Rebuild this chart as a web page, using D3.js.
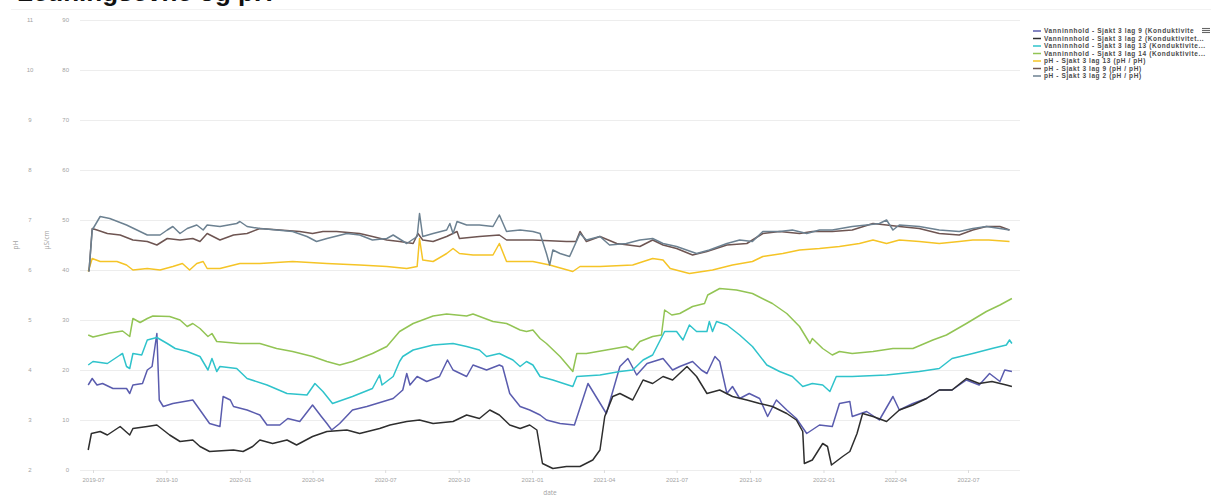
<!DOCTYPE html>
<html lang="en">
<head>
<meta charset="UTF-8">
<title>Ledningsevne og pH</title>
<style>
    body { margin: 0; background: #fff; overflow: hidden; }
    svg { display: block; font-family: "Open Sans", sans-serif; }
    .grid line { stroke: #ededed; stroke-width: 1; }
    .domain { display: none; }
    .axis text { fill: #a3a3a3; font-size: 6px; }
    .xaxis line { stroke: #dcdcdc; }
    .series { fill: none; stroke-width: 1.5; stroke-linejoin: round; }
    .legend text { fill: #4a4a4a; font-family: "Liberation Sans", Arial, sans-serif; font-size: 6.5px; font-weight: bold; letter-spacing: 0.6px; }
</style>
</head>
<body>
<svg></svg>
<script src="https://d3js.org/d3.v7.min.js"></script>
<script>
    /* data */
    const condTicks = [0, 10, 20, 30, 40, 50, 60, 70, 80, 90];
    const phTicks = [2, 3, 4, 5, 6, 7, 8, 9, 10, 11];
    const dateTicks = ["2019-07-01", "2019-10-01", "2020-01-01", "2020-04-01", "2020-07-01", "2020-10-01",
        "2021-01-01", "2021-04-01", "2021-07-01", "2021-10-01", "2022-01-01", "2022-04-01", "2022-07-01"];

    const condLag9 = [["2019-06-25",17.0],["2019-06-30",18.3],["2019-07-06",17.0],["2019-07-13",17.3],["2019-07-26",16.3],
        ["2019-08-12",16.3],["2019-08-16",15.3],["2019-08-20",17.0],["2019-09-01",17.3],["2019-09-07",20.0],["2019-09-13",20.7],
        ["2019-09-19",27.3],["2019-09-22",14.0],["2019-09-27",12.7],["2019-10-09",13.3],["2019-11-03",14.0],["2019-11-12",12.0],
        ["2019-11-24",9.3],["2019-12-07",8.7],["2019-12-11",14.7],["2019-12-20",14.0],["2019-12-24",12.7],["2020-01-10",12.0],
        ["2020-01-26",11.0],["2020-02-04",9.0],["2020-02-20",9.0],["2020-03-01",10.3],["2020-03-16",9.7],["2020-04-01",13.0],
        ["2020-04-12",10.7],["2020-04-19",9.3],["2020-04-25",8.0],["2020-05-05",9.3],["2020-05-21",12.0],["2020-06-08",12.7],
        ["2020-07-11",14.3],["2020-07-23",16.0],["2020-07-28",19.3],["2020-08-01",17.0],["2020-08-10",18.7],["2020-08-22",17.7],
        ["2020-09-07",18.7],["2020-09-17",22.0],["2020-09-24",20.0],["2020-10-11",18.7],["2020-10-19",21.0],["2020-11-05",20.0],
        ["2020-11-21",21.0],["2020-11-25",20.7],["2020-12-04",15.3],["2020-12-17",12.7],["2020-12-29",12.0],["2021-01-11",11.0],
        ["2021-01-19",10.0],["2021-02-05",9.3],["2021-02-23",9.0],["2021-03-12",17.3],["2021-04-04",11.3],["2021-04-21",20.7],
        ["2021-05-01",22.3],["2021-05-12",19.0],["2021-05-25",21.3],["2021-06-14",22.3],["2021-06-26",20.0],["2021-07-05",20.7],
        ["2021-07-21",21.7],["2021-08-01",20.0],["2021-08-08",19.3],["2021-08-18",22.7],["2021-08-24",21.7],["2021-09-02",15.3],
        ["2021-09-09",16.7],["2021-09-18",14.3],["2021-09-30",15.3],["2021-10-13",14.3],["2021-10-23",10.7],["2021-11-03",14.0],
        ["2021-11-16",12.0],["2021-11-28",10.3],["2021-12-11",7.3],["2021-12-27",9.0],["2022-01-12",8.7],["2022-01-21",13.3],
        ["2022-02-03",13.7],["2022-02-06",10.7],["2022-02-24",11.7],["2022-03-12",10.0],["2022-03-29",14.7],["2022-04-06",12.0],
        ["2022-04-23",13.3],["2022-05-10",14.3],["2022-05-26",16.0],["2022-06-11",16.0],["2022-06-29",18.0],["2022-07-15",17.0],
        ["2022-07-28",19.3],["2022-08-10",17.7],["2022-08-16",20.0],["2022-08-25",19.7]];

    const condLag2 = [["2019-06-25",4.0],["2019-06-29",7.3],["2019-07-10",7.7],["2019-07-19",7.0],["2019-08-04",8.7],
        ["2019-08-16",7.0],["2019-08-20",8.3],["2019-09-07",8.7],["2019-09-19",9.0],["2019-10-05",7.0],["2019-10-18",5.7],
        ["2019-11-03",6.0],["2019-11-12",4.7],["2019-11-24",3.7],["2019-12-24",4.0],["2020-01-05",3.7],["2020-01-17",4.7],
        ["2020-01-26",6.0],["2020-02-11",5.3],["2020-02-29",6.0],["2020-03-12",5.0],["2020-04-01",6.7],["2020-04-19",7.7],
        ["2020-05-14",8.0],["2020-05-30",7.3],["2020-06-24",8.3],["2020-07-07",9.0],["2020-07-28",9.7],["2020-08-13",10.0],
        ["2020-08-30",9.3],["2020-09-24",9.7],["2020-10-11",11.0],["2020-10-27",10.3],["2020-11-09",12.0],["2020-11-21",11.0],
        ["2020-12-04",9.0],["2020-12-17",8.3],["2020-12-29",9.0],["2021-01-07",8.0],["2021-01-14",1.3],["2021-01-27",0.3],
        ["2021-02-13",0.7],["2021-03-02",0.7],["2021-03-18",2.0],["2021-03-27",4.0],["2021-04-02",10.7],["2021-04-12",14.7],
        ["2021-04-21",15.3],["2021-05-07",14.0],["2021-05-20",18.0],["2021-06-01",17.3],["2021-06-14",18.7],["2021-06-26",18.0],
        ["2021-07-14",20.7],["2021-07-26",18.7],["2021-08-08",15.3],["2021-08-24",16.0],["2021-09-09",14.7],["2021-09-27",14.0],
        ["2021-10-13",13.3],["2021-10-29",12.7],["2021-11-16",11.3],["2021-11-28",10.0],["2021-12-06",7.7],["2021-12-08",1.3],
        ["2021-12-18",2.0],["2021-12-31",5.3],["2022-01-06",4.7],["2022-01-11",1.0],["2022-01-25",2.7],["2022-02-03",3.7],
        ["2022-02-12",7.3],["2022-02-19",11.3],["2022-03-04",10.7],["2022-03-21",9.7],["2022-04-06",12.0],["2022-04-23",13.0],
        ["2022-05-10",14.3],["2022-05-26",16.0],["2022-06-11",16.0],["2022-06-29",18.3],["2022-07-15",17.3],["2022-07-31",17.7],
        ["2022-08-18",17.0],["2022-08-25",16.7]];

    const condLag13 = [["2019-06-25",21.0],["2019-07-01",21.7],["2019-07-19",21.3],["2019-08-04",23.0],["2019-08-07",23.3],
        ["2019-08-12",20.7],["2019-08-16",20.3],["2019-08-20",23.3],["2019-08-31",23.0],["2019-09-07",26.0],["2019-09-19",26.5],
        ["2019-10-02",25.3],["2019-10-12",24.3],["2019-10-27",23.7],["2019-11-12",22.7],["2019-11-22",20.0],["2019-11-27",22.3],
        ["2019-12-03",19.7],["2019-12-07",20.7],["2019-12-28",20.3],["2020-01-10",18.3],["2020-02-04",17.0],["2020-02-29",15.3],
        ["2020-03-25",15.0],["2020-04-04",17.3],["2020-04-14",15.7],["2020-04-26",13.3],["2020-05-21",14.7],["2020-06-15",16.3],
        ["2020-06-24",19.0],["2020-06-27",17.0],["2020-07-11",18.7],["2020-07-19",21.7],["2020-07-23",22.7],["2020-08-05",24.0],
        ["2020-08-30",25.0],["2020-09-24",25.3],["2020-10-11",24.7],["2020-10-27",24.0],["2020-11-05",22.7],["2020-11-21",23.3],
        ["2020-12-08",22.0],["2020-12-17",20.7],["2020-12-25",21.7],["2021-01-02",21.0],["2021-01-11",18.7],["2021-01-27",18.0],
        ["2021-02-21",16.7],["2021-02-26",18.7],["2021-03-27",19.0],["2021-04-21",19.7],["2021-05-07",20.0],["2021-05-20",22.0],
        ["2021-06-01",23.0],["2021-06-16",27.7],["2021-07-01",27.7],["2021-07-09",26.0],["2021-07-17",29.0],["2021-07-26",27.7],
        ["2021-08-08",27.7],["2021-08-11",29.7],["2021-08-15",27.7],["2021-08-20",29.7],["2021-09-02",29.0],["2021-09-18",27.0],
        ["2021-10-04",24.7],["2021-10-22",21.0],["2021-11-07",19.7],["2021-11-23",18.7],["2021-12-06",16.7],["2021-12-18",17.3],
        ["2021-12-31",17.0],["2022-01-09",15.7],["2022-01-17",18.7],["2022-02-06",18.7],["2022-03-21",19.0],["2022-05-01",19.7],
        ["2022-05-26",20.3],["2022-06-11",22.3],["2022-07-07",23.3],["2022-07-31",24.3],["2022-08-18",25.0],["2022-08-22",26.0],
        ["2022-08-25",25.3]];

    const condLag14 = [["2019-06-25",27.0],["2019-07-01",26.6],["2019-07-22",27.4],["2019-08-07",27.8],["2019-08-16",26.7],
        ["2019-08-20",30.3],["2019-08-29",29.5],["2019-09-07",30.3],["2019-09-14",30.8],["2019-10-05",30.7],["2019-10-18",30.0],
        ["2019-10-27",28.7],["2019-11-03",29.3],["2019-11-12",28.3],["2019-11-22",26.7],["2019-11-27",27.3],["2019-12-03",25.7],
        ["2020-01-01",25.3],["2020-01-26",25.3],["2020-02-16",24.3],["2020-03-07",23.7],["2020-04-01",22.7],["2020-04-19",21.7],
        ["2020-05-05",21.0],["2020-05-21",21.7],["2020-06-15",23.3],["2020-07-03",24.7],["2020-07-19",27.7],["2020-08-05",29.3],
        ["2020-08-30",30.8],["2020-09-16",31.2],["2020-10-11",30.8],["2020-10-19",31.2],["2020-11-13",29.7],["2020-11-30",29.3],
        ["2020-12-17",28.0],["2020-12-25",27.7],["2021-01-02",28.0],["2021-01-11",26.3],["2021-01-19",25.3],["2021-02-05",22.7],
        ["2021-02-21",19.7],["2021-02-26",23.3],["2021-03-10",23.3],["2021-04-04",24.0],["2021-04-29",24.7],["2021-05-07",24.0],
        ["2021-05-16",25.7],["2021-06-01",26.7],["2021-06-12",27.0],["2021-06-16",32.0],["2021-06-25",31.0],["2021-07-05",31.3],
        ["2021-07-21",32.7],["2021-08-05",33.3],["2021-08-09",35.0],["2021-08-24",36.3],["2021-09-14",36.0],["2021-10-04",35.3],
        ["2021-10-29",33.3],["2021-11-16",31.3],["2021-12-02",28.7],["2021-12-15",25.3],["2021-12-18",26.3],["2021-12-31",24.3],
        ["2022-01-12",23.0],["2022-01-21",23.7],["2022-02-06",23.3],["2022-03-04",23.7],["2022-03-29",24.3],["2022-04-23",24.3],
        ["2022-05-18",26.0],["2022-06-04",27.0],["2022-06-29",29.3],["2022-07-24",31.7],["2022-08-10",33.0],["2022-08-25",34.3]];

    const phLag13 = [["2019-06-25",5.97],["2019-06-30",6.23],["2019-07-10",6.17],["2019-07-31",6.17],["2019-08-12",6.1],
        ["2019-08-20",6.0],["2019-09-07",6.03],["2019-09-23",6.0],["2019-10-09",6.07],["2019-10-21",6.13],["2019-10-30",6.0],
        ["2019-11-08",6.13],["2019-11-16",6.17],["2019-11-21",6.03],["2019-12-07",6.03],["2020-01-01",6.13],["2020-01-26",6.13],
        ["2020-03-07",6.17],["2020-04-19",6.13],["2020-05-30",6.1],["2020-07-03",6.07],["2020-07-28",6.03],["2020-08-10",6.07],
        ["2020-08-13",6.63],["2020-08-17",6.2],["2020-08-30",6.17],["2020-09-16",6.33],["2020-09-24",6.43],["2020-10-02",6.33],
        ["2020-10-19",6.3],["2020-11-13",6.3],["2020-11-21",6.53],["2020-11-30",6.17],["2020-12-25",6.17],["2021-01-02",6.17],
        ["2021-01-23",6.1],["2021-02-21",5.97],["2021-03-02",6.07],["2021-03-27",6.07],["2021-05-07",6.1],["2021-06-01",6.23],
        ["2021-06-14",6.2],["2021-06-23",6.03],["2021-07-17",5.93],["2021-08-15",6.0],["2021-09-09",6.1],["2021-10-04",6.17],
        ["2021-10-17",6.27],["2021-11-11",6.33],["2021-12-02",6.4],["2021-12-27",6.43],["2022-01-21",6.47],["2022-02-15",6.53],
        ["2022-03-04",6.6],["2022-03-21",6.53],["2022-04-06",6.6],["2022-05-01",6.57],["2022-05-26",6.53],["2022-06-20",6.57],
        ["2022-07-07",6.6],["2022-07-27",6.6],["2022-08-22",6.57]];

    const phLag9 = [["2019-06-26",5.97],["2019-06-30",6.83],["2019-07-06",6.8],["2019-07-19",6.73],["2019-08-04",6.7],
        ["2019-08-20",6.6],["2019-09-07",6.57],["2019-09-19",6.5],["2019-10-02",6.63],["2019-10-18",6.6],["2019-11-03",6.63],
        ["2019-11-12",6.57],["2019-11-21",6.73],["2019-12-07",6.6],["2019-12-24",6.7],["2020-01-10",6.73],["2020-01-26",6.83],
        ["2020-02-20",6.8],["2020-03-16",6.77],["2020-04-01",6.73],["2020-04-14",6.77],["2020-05-01",6.77],["2020-05-30",6.73],
        ["2020-06-15",6.67],["2020-07-03",6.6],["2020-07-19",6.57],["2020-08-05",6.53],["2020-08-11",6.73],["2020-08-17",6.6],
        ["2020-08-30",6.57],["2020-09-16",6.67],["2020-09-29",6.77],["2020-10-02",6.63],["2020-10-27",6.67],["2020-11-21",6.7],
        ["2020-11-30",6.6],["2020-12-25",6.6],["2021-01-02",6.6],["2021-02-13",6.57],["2021-02-25",6.57],["2021-03-02",6.77],
        ["2021-03-10",6.57],["2021-03-27",6.67],["2021-04-17",6.53],["2021-05-16",6.47],["2021-06-01",6.6],["2021-06-14",6.5],
        ["2021-07-01",6.43],["2021-07-21",6.3],["2021-08-08",6.37],["2021-09-02",6.5],["2021-09-27",6.53],["2021-10-17",6.73],
        ["2021-11-07",6.77],["2021-12-02",6.73],["2021-12-18",6.77],["2022-01-12",6.77],["2022-02-06",6.8],["2022-03-04",6.93],
        ["2022-03-21",6.9],["2022-04-06",6.87],["2022-05-01",6.83],["2022-05-26",6.73],["2022-06-20",6.7],["2022-07-07",6.8],
        ["2022-07-24",6.87],["2022-08-10",6.87],["2022-08-22",6.8]];

    const phLag2 = [["2019-06-26",5.97],["2019-06-30",6.8],["2019-07-10",7.07],["2019-07-22",7.03],["2019-08-12",6.9],
        ["2019-08-25",6.8],["2019-09-07",6.7],["2019-09-23",6.7],["2019-10-02",6.8],["2019-10-09",6.87],["2019-10-18",6.73],
        ["2019-10-27",6.83],["2019-11-08",6.9],["2019-11-16",6.8],["2019-11-21",6.9],["2019-12-07",6.87],["2019-12-28",6.93],
        ["2020-01-01",6.97],["2020-01-10",6.87],["2020-01-26",6.83],["2020-02-16",6.8],["2020-03-07",6.77],["2020-03-25",6.67],
        ["2020-04-06",6.57],["2020-04-19",6.63],["2020-05-14",6.73],["2020-05-30",6.7],["2020-06-15",6.6],["2020-07-03",6.63],
        ["2020-07-11",6.7],["2020-07-28",6.53],["2020-08-10",6.67],["2020-08-13",7.13],["2020-08-17",6.67],["2020-08-30",6.73],
        ["2020-09-16",6.8],["2020-09-20",6.93],["2020-09-24",6.73],["2020-09-29",6.97],["2020-10-11",6.9],["2020-10-27",6.9],
        ["2020-11-13",6.87],["2020-11-21",7.1],["2020-11-30",6.77],["2020-12-17",6.8],["2021-01-02",6.77],["2021-01-11",6.73],
        ["2021-01-19",6.33],["2021-01-23",6.1],["2021-01-27",6.4],["2021-02-05",6.33],["2021-02-17",6.27],["2021-03-02",6.73],
        ["2021-03-10",6.6],["2021-03-27",6.67],["2021-04-08",6.5],["2021-04-29",6.53],["2021-05-16",6.6],["2021-06-01",6.63],
        ["2021-06-14",6.53],["2021-07-01",6.47],["2021-07-26",6.33],["2021-08-11",6.4],["2021-09-02",6.53],["2021-09-18",6.6],
        ["2021-10-04",6.57],["2021-10-17",6.77],["2021-11-07",6.77],["2021-11-23",6.8],["2021-12-11",6.73],["2021-12-27",6.8],
        ["2022-01-12",6.8],["2022-02-06",6.87],["2022-02-24",6.9],["2022-03-12",6.93],["2022-03-21",7.0],["2022-03-29",6.8],
        ["2022-04-06",6.9],["2022-05-01",6.87],["2022-05-26",6.8],["2022-06-20",6.77],["2022-07-07",6.83],["2022-07-24",6.87],
        ["2022-08-10",6.83],["2022-08-22",6.8]];

    const seriesLabels = [
        "Vanninnhold - Sjakt 3 lag 9 (Konduktivite",
        "Vanninnhold - Sjakt 3 lag 2 (Konduktivitet...",
        "Vanninnhold - Sjakt 3 lag 13 (Konduktivite...",
        "Vanninnhold - Sjakt 3 lag 14 (Konduktivite...",
        "pH - Sjakt 3 lag 13 (pH / pH)",
        "pH - Sjakt 3 lag 9 (pH / pH)",
        "pH - Sjakt 3 lag 2 (pH / pH)"
    ];
    const seriesData = [condLag9, condLag2, condLag13, condLag14, phLag13, phLag9, phLag2];
    const seriesIsPh = [false, false, false, false, true, true, true];
    const seriesColors = ["#5a5cae", "#2e2e2e", "#2fc3cb", "#92c454", "#f5c426", "#6e5552", "#6c8191"];

    /* layout */
    const width = 1211;
    const height = 497;
    const plotLeft = 80;
    const plotRight = 1020;
    const plotTop = 20;
    const plotBottom = 470;

    const svg = d3.select("svg")
        .attr("width", width)
        .attr("height", height);

    const parse = d3.utcParse("%Y-%m-%d");
    const x = d3.scaleUtc()
        .domain([parse("2019-07-01"), parse("2022-07-01")])
        .range([93, 968]);
    const yCond = d3.scaleLinear().domain([0, 90]).range([plotBottom, plotTop]);
    const yPh = d3.scaleLinear().domain([2, 11]).range([plotBottom, plotTop]);

    /* title, mostly cut off above the window as in the original screenshot */
    svg.append("text")
        .attr("x", 17)
        .attr("y", 1)
        .attr("font-family", "Liberation Sans, Arial, sans-serif")
        .attr("font-weight", "bold")
        .attr("font-size", 26)
        .attr("fill", "#111")
        .text("Ledningsevne og pH");

    svg.append("line")
        .attr("x1", 11).attr("x2", width)
        .attr("y1", 9.5).attr("y2", 9.5)
        .attr("stroke", "#f2f2f2");

    /* grid */
    svg.append("g")
        .attr("class", "grid")
        .attr("transform", `translate(${plotRight},0)`)
        .call(d3.axisLeft(yCond).tickValues(condTicks).tickSize(plotRight - plotLeft).tickFormat(""));

    /* y axes */
    svg.append("g")
        .attr("class", "axis")
        .attr("transform", "translate(69,0)")
        .call(d3.axisLeft(yCond).tickValues(condTicks).tickSize(0).tickPadding(0));

    svg.append("g")
        .attr("class", "axis")
        .attr("transform", "translate(30,0)")
        .call(d3.axisLeft(yPh).tickValues(phTicks).tickSize(0).tickPadding(0))
        .selectAll("text").attr("text-anchor", "middle");

    /* x axis */
    svg.append("g")
        .attr("class", "axis xaxis")
        .attr("transform", `translate(0,${plotBottom})`)
        .call(d3.axisBottom(x)
            .tickValues(dateTicks.map(parse))
            .tickFormat(d3.utcFormat("%Y-%m"))
            .tickSize(3)
            .tickPadding(5));

    /* axis titles */
    svg.append("text")
        .attr("transform", "translate(18,245) rotate(-90)")
        .attr("text-anchor", "middle")
        .attr("font-size", 6.5)
        .attr("fill", "#a3a3a3")
        .text("pH");
    svg.append("text")
        .attr("transform", "translate(49,240) rotate(-90)")
        .attr("text-anchor", "middle")
        .attr("font-size", 6.5)
        .attr("fill", "#a3a3a3")
        .text("μS/cm");
    svg.append("text")
        .attr("x", 550)
        .attr("y", 495)
        .attr("text-anchor", "middle")
        .attr("font-size", 6.5)
        .attr("fill", "#a3a3a3")
        .text("date");

    /* lines */
    seriesData.forEach((data, i) => {
        const y = seriesIsPh[i] ? yPh : yCond;
        const line = d3.line()
            .x(d => x(parse(d[0])))
            .y(d => y(d[1]));
        svg.append("path")
            .datum(data)
            .attr("class", "series")
            .attr("stroke", seriesColors[i])
            .attr("d", line);
    });

    /* legend */
    const legend = svg.append("g")
        .attr("class", "legend")
        .attr("transform", "translate(1033,31)");
    seriesLabels.forEach((label, i) => {
        const row = legend.append("g")
            .attr("transform", `translate(0,${i * 7.5})`);
        row.append("line")
            .attr("x1", 0).attr("x2", 8)
            .attr("stroke", seriesColors[i])
            .attr("stroke-width", 1.5);
        row.append("text")
            .attr("x", 11)
            .attr("dy", "0.35em")
            .text(label);
    });

    /* menu icon */
    svg.append("rect")
        .attr("x", 1200).attr("y", 26)
        .attr("width", 11).attr("height", 9)
        .attr("fill", "#fff");
    [28.5, 30.5, 32.5].forEach(yy => {
        svg.append("line")
            .attr("x1", 1202).attr("x2", 1210)
            .attr("y1", yy).attr("y2", yy)
            .attr("stroke", "#666")
            .attr("stroke-width", 1.1);
    });
</script>
</body>
</html>
